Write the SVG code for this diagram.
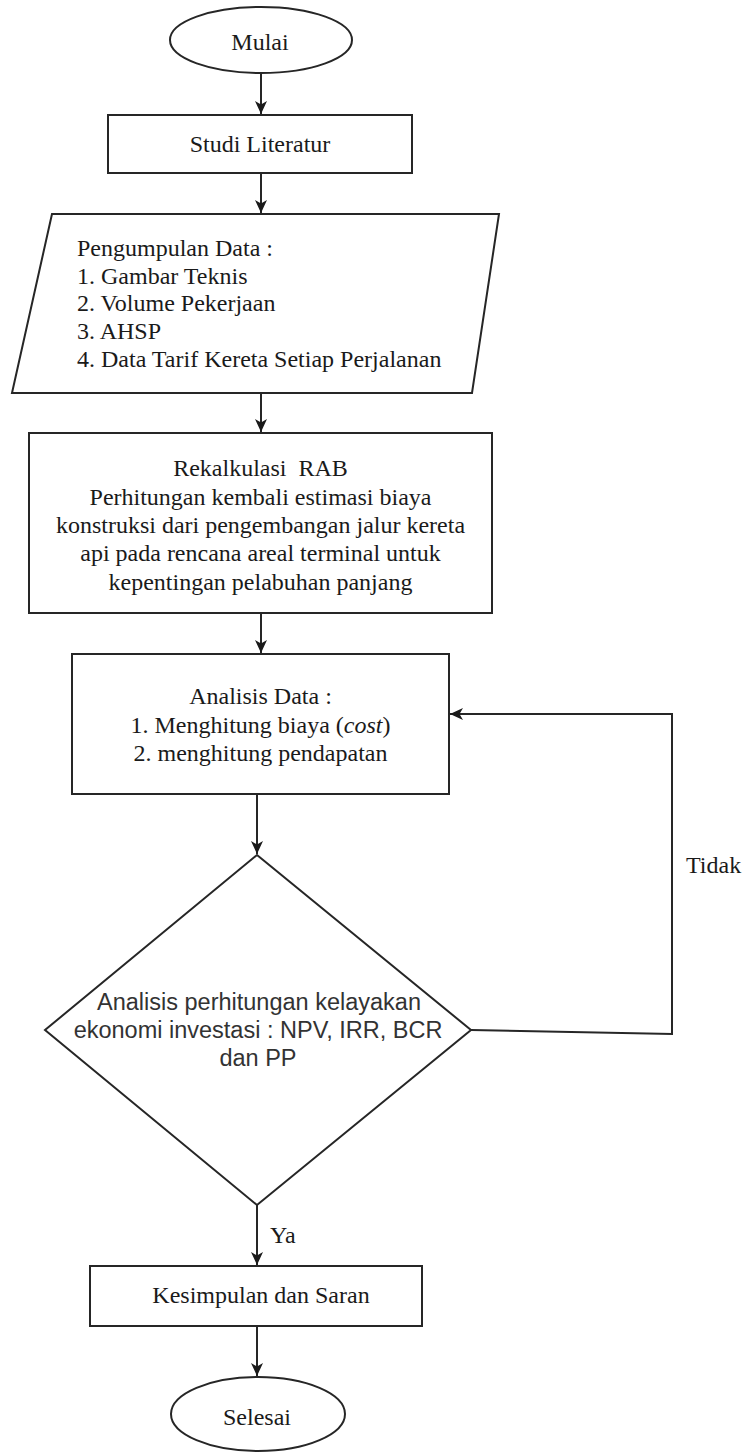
<svg xmlns="http://www.w3.org/2000/svg" width="745" height="1452" viewBox="0 0 745 1452">
<style>
.shape{fill:#fff;stroke:#262626;stroke-width:2}
.edge{fill:none;stroke:#262626;stroke-width:2}
.t{font-family:"Liberation Serif","Times New Roman",serif;font-size:24px;fill:#1a1a1a}
.c{text-anchor:middle}
.s{font-family:"Liberation Sans",Arial,sans-serif;font-size:23.5px;fill:#333;text-anchor:middle}
</style>
<defs>
<marker id="ah" markerWidth="14" markerHeight="14" refX="13" refY="7" orient="auto" markerUnits="userSpaceOnUse">
<path d="M0,1 L13,7 L0,13 L3.5,7 Z" fill="#1a1a1a"/>
</marker>
</defs>
<rect width="745" height="1452" fill="#fff"/>
<g id="connectors">
<line class="edge" x1="261" y1="73" x2="261" y2="114" marker-end="url(#ah)"/>
<line class="edge" x1="261" y1="173" x2="261" y2="213" marker-end="url(#ah)"/>
<line class="edge" x1="261" y1="393" x2="261" y2="432" marker-end="url(#ah)"/>
<line class="edge" x1="261" y1="613" x2="261" y2="653" marker-end="url(#ah)"/>
<line class="edge" x1="257" y1="794" x2="257" y2="854" marker-end="url(#ah)"/>
<line class="edge" x1="257" y1="1205" x2="257" y2="1265" marker-end="url(#ah)"/>
<line class="edge" x1="257" y1="1326" x2="257" y2="1376" marker-end="url(#ah)"/>
<polyline class="edge" points="471,1030 672,1034 672,714 450,714" marker-end="url(#ah)"/>
<text class="t" x="686" y="873">Tidak</text>
<text class="t" x="270" y="1243">Ya</text>
</g>
<g id="mulai">
<ellipse class="shape" cx="261" cy="40" rx="91" ry="33"/>
<text class="t c" x="260" y="50">Mulai</text>
</g>
<g id="studi">
<rect class="shape" x="108" y="115" width="304" height="58"/>
<text class="t c" x="260" y="152">Studi Literatur</text>
</g>
<g id="pengumpulan">
<polygon class="shape" points="52,214 499,214 472,393 12,393"/>
<text class="t" x="77" y="256">Pengumpulan Data :</text>
<text class="t" x="77" y="284">1. Gambar Teknis</text>
<text class="t" x="77" y="311">2. Volume Pekerjaan</text>
<text class="t" x="77" y="339">3. AHSP</text>
<text class="t" x="77" y="367">4. Data Tarif Kereta Setiap Perjalanan</text>
</g>
<g id="rekalkulasi">
<rect class="shape" x="29" y="433" width="463" height="180"/>
<text class="t c" x="260.5" y="476">Rekalkulasi&#160; RAB</text>
<text class="t c" x="260.5" y="505">Perhitungan kembali estimasi biaya</text>
<text class="t c" x="260.5" y="533">konstruksi dari pengembangan jalur kereta</text>
<text class="t c" x="260.5" y="561">api pada rencana areal terminal untuk</text>
<text class="t c" x="260.5" y="590">kepentingan pelabuhan panjang</text>
</g>
<g id="analisis">
<rect class="shape" x="72" y="654" width="377" height="140"/>
<text class="t c" x="260.5" y="704">Analisis Data :</text>
<text class="t c" x="260.5" y="733">1. Menghitung biaya (<tspan font-style="italic">cost</tspan>)</text>
<text class="t c" x="260.5" y="761">2. menghitung pendapatan</text>
</g>
<g id="kelayakan">
<polygon class="shape" points="257,855 471,1030 257,1205 45,1030"/>
<text class="s" x="259" y="1010">Analisis perhitungan kelayakan</text>
<text class="s" x="258" y="1038">ekonomi investasi : NPV, IRR, BCR</text>
<text class="s" x="258" y="1066">dan PP</text>
</g>
<g id="kesimpulan">
<rect class="shape" x="90" y="1266" width="332" height="60"/>
<text class="t c" x="261" y="1303">Kesimpulan dan Saran</text>
</g>
<g id="selesai">
<ellipse class="shape" cx="258" cy="1414" rx="87" ry="37"/>
<text class="t c" x="257" y="1425">Selesai</text>
</g>
</svg>
